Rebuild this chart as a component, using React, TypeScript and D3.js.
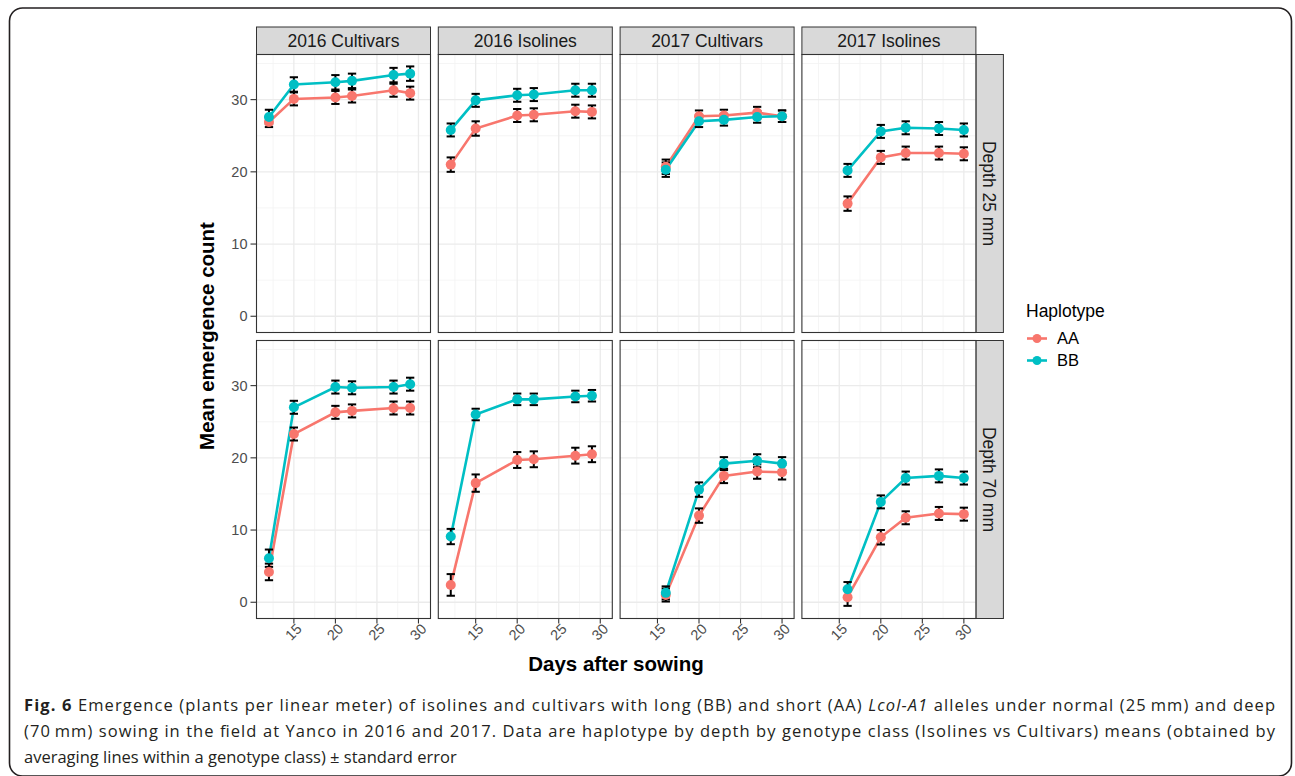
import React from 'react';
import * as d3 from 'd3';

// facets
const years = ['2016', '2016', '2017', '2017'];
const classes = ['Cultivars', 'Isolines', 'Cultivars', 'Isolines'];
const depths = ['Depth 25 mm', 'Depth 70 mm'];
const haplotypes = ['AA', 'BB'];

// days after sowing
const days2016 = [12, 15, 20, 22, 27, 29];
const days2017 = [16, 20, 23, 27, 30];

// mean emergence, depth 25 mm
const aa25 = [
  [26.9, 30.1, 30.3, 30.5, 31.3, 30.9],
  [21.0, 26.0, 27.8, 27.9, 28.4, 28.3],
  [20.7, 27.7, 27.8, 28.2, 27.7],
  [15.6, 22.0, 22.6, 22.6, 22.5],
];
const bb25 = [
  [27.6, 32.1, 32.4, 32.6, 33.4, 33.6],
  [25.8, 29.9, 30.6, 30.7, 31.3, 31.3],
  [20.3, 27.0, 27.2, 27.6, 27.7],
  [20.2, 25.6, 26.1, 26.0, 25.8],
];
// mean emergence, depth 70 mm
const aa70 = [
  [4.2, 23.3, 26.3, 26.5, 26.9, 26.9],
  [2.4, 16.5, 19.7, 19.8, 20.3, 20.5],
  [1.0, 12.0, 17.5, 18.1, 18.0],
  [0.7, 9.0, 11.7, 12.3, 12.2],
];
const bb70 = [
  [6.1, 27.0, 29.8, 29.7, 29.8, 30.2],
  [9.1, 26.0, 28.1, 28.1, 28.5, 28.6],
  [1.3, 15.6, 19.2, 19.6, 19.2],
  [1.8, 13.9, 17.2, 17.5, 17.2],
];

// standard errors
const aa25se = [
  [0.7, 0.9, 0.9, 0.9, 0.9, 0.9],
  [1.0, 1.0, 0.9, 0.9, 0.9, 0.9],
  [1.0, 0.8, 0.8, 0.8, 0.8],
  [1.0, 0.9, 0.9, 0.9, 0.9],
];
const bb25se = [
  [1.0, 1.0, 1.0, 1.0, 1.0, 1.0],
  [0.9, 0.9, 0.9, 0.9, 0.9, 0.9],
  [1.0, 0.8, 0.8, 0.8, 0.8],
  [0.9, 0.9, 0.9, 0.9, 0.9],
];
const aa70se = [
  [1.15, 0.9, 0.9, 0.9, 0.9, 0.9],
  [1.5, 1.2, 1.1, 1.1, 1.1, 1.1],
  [0.9, 1.0, 1.0, 1.0, 1.0],
  [1.2, 1.0, 0.9, 0.9, 0.9],
];
const bb70se = [
  [1.2, 0.9, 0.9, 0.9, 0.9, 0.9],
  [1.06, 0.8, 0.8, 0.8, 0.8, 0.8],
  [0.9, 1.0, 0.9, 0.9, 0.9],
  [1.0, 0.9, 0.9, 0.9, 0.9],
];

const xTicks = [15, 20, 25, 30];
const xMinor = [12.5, 17.5, 22.5, 27.5];
const yTicks = [0, 10, 20, 30];
const yMinor = [5, 15, 25, 35];

const colors = ['#F8766D', '#00BFC4'];

const FONT = '"Liberation Sans", Arial, Helvetica, sans-serif';

const App = () => {
  const width = 1295;
  const height = 776;

  const panelLeft = 256.5;
  const panelW = 174;
  const colStep = 181.8;
  const rowTops = [54.5, 340.5];
  const panelH = 278;
  const stripTop = 27;

  const x = d3.scaleLinear().domain([10.5, 31.45]).range([0, panelW]);
  const y = d3.scaleLinear().domain([-2.25, 36.25]).range([panelH, 0]);

  const means = [
    [aa25, bb25],
    [aa70, bb70],
  ];
  const ses = [
    [aa25se, bb25se],
    [aa70se, bb70se],
  ];

  const line = d3
    .line<[number, number]>()
    .x((d) => x(d[0]))
    .y((d) => y(d[1]));

  const capHalf = x(11) - x(10.5);

  return (
    <svg
      width={width}
      height={height}
      style={{ position: 'absolute', left: 0, top: 0, background: '#fff' }}
      fontFamily={FONT}
    >
      <rect x={9.5} y={8} width={1282} height={768} rx={13} fill="none" stroke="#231f20" strokeWidth={1.6} />

      {/* strips on top */}
      {years.map((yr, c) => {
        const px = panelLeft + c * colStep;
        return (
          <g key={'s' + c}>
            <rect x={px} y={stripTop} width={panelW} height={rowTops[0] - stripTop} fill="#D9D9D9" stroke="#333" strokeWidth={1} />
            <text x={px + panelW / 2} y={(stripTop + rowTops[0]) / 2} dy="0.36em" textAnchor="middle" fontSize={17.5} fill="#1A1A1A">
              {yr} {classes[c]}
            </text>
          </g>
        );
      })}

      {/* strips on the right */}
      {depths.map((dp, r) => {
        const sx = panelLeft + 3 * colStep + panelW;
        return (
          <g key={'r' + r}>
            <rect x={sx} y={rowTops[r]} width={27.5} height={panelH} fill="#D9D9D9" stroke="#333" strokeWidth={1} />
            <text
              transform={`translate(${sx + 13.75},${rowTops[r] + panelH / 2}) rotate(90)`}
              dy="0.36em"
              textAnchor="middle"
              fontSize={17.5}
              fill="#1A1A1A"
            >
              {dp}
            </text>
          </g>
        );
      })}

      {depths.map((dp, r) =>
        years.map((yr, c) => {
          const px = panelLeft + c * colStep;
          const py = rowTops[r];
          const days = yr === '2016' ? days2016 : days2017;
          return (
            <g key={`p${r}${c}`} transform={`translate(${px},${py})`}>
              <rect width={panelW} height={panelH} fill="#fff" />
              {xMinor.map((t) => (
                <line key={'xm' + t} x1={x(t)} x2={x(t)} y1={0} y2={panelH} stroke="#F2F2F2" strokeWidth={0.8} />
              ))}
              {yMinor.map((t) => (
                <line key={'ym' + t} y1={y(t)} y2={y(t)} x1={0} x2={panelW} stroke="#F2F2F2" strokeWidth={0.8} />
              ))}
              {xTicks.map((t) => (
                <line key={'xg' + t} x1={x(t)} x2={x(t)} y1={0} y2={panelH} stroke="#EBEBEB" strokeWidth={1.3} />
              ))}
              {yTicks.map((t) => (
                <line key={'yg' + t} y1={y(t)} y2={y(t)} x1={0} x2={panelW} stroke="#EBEBEB" strokeWidth={1.3} />
              ))}

              {haplotypes.map((h, k) => {
                const vals = means[r][k][c];
                const pts = days.map((d, i) => [d, vals[i]] as [number, number]);
                return (
                  <path key={'l' + h} d={line(pts) || ''} fill="none" stroke={colors[k]} strokeWidth={2.6} />
                );
              })}
              {haplotypes.map((h, k) => {
                const vals = means[r][k][c];
                const err = ses[r][k][c];
                return (
                  <g key={'e' + h} stroke="#000" strokeWidth={2}>
                    {days.map((d, i) => {
                      const cx = x(d);
                      const y1 = y(vals[i] + err[i]);
                      const y0 = y(vals[i] - err[i]);
                      return (
                        <g key={i}>
                          <line x1={cx} x2={cx} y1={y1} y2={y0} />
                          <line x1={cx - capHalf} x2={cx + capHalf} y1={y1} y2={y1} />
                          <line x1={cx - capHalf} x2={cx + capHalf} y1={y0} y2={y0} />
                        </g>
                      );
                    })}
                  </g>
                );
              })}
              {haplotypes.map((h, k) => {
                const vals = means[r][k][c];
                return (
                  <g key={'pt' + h} fill={colors[k]}>
                    {days.map((d, i) => (
                      <circle key={i} cx={x(d)} cy={y(vals[i])} r={5} />
                    ))}
                  </g>
                );
              })}

              <rect width={panelW} height={panelH} fill="none" stroke="#333" strokeWidth={1.1} />

              {c === 0 &&
                yTicks.map((t) => (
                  <g key={'yt' + t}>
                    <line x1={-6} x2={0} y1={y(t)} y2={y(t)} stroke="#333" strokeWidth={1.1} />
                    <text x={-9} y={y(t)} dy="0.36em" textAnchor="end" fontSize={14.5} fill="#4D4D4D">
                      {t}
                    </text>
                  </g>
                ))}
              {r === 1 &&
                xTicks.map((t) => (
                  <g key={'xt' + t}>
                    <line x1={x(t)} x2={x(t)} y1={panelH} y2={panelH + 5} stroke="#333" strokeWidth={1.1} />
                    <text
                      transform={`translate(${x(t) + 1.5},${panelH + 4}) rotate(-45)`}
                      dy="0.72em"
                      textAnchor="end"
                      fontSize={14.5}
                      fill="#4D4D4D"
                    >
                      {t}
                    </text>
                  </g>
                ))}
            </g>
          );
        })
      )}

      {/* axis titles */}
      <text x={616} y={671} textAnchor="middle" fontSize={20.5} fontWeight="bold" fill="#000">
        Days after sowing
      </text>
      <text transform="translate(214,336) rotate(-90)" textAnchor="middle" fontSize={20.5} fontWeight="bold" fill="#000">
        Mean emergence count
      </text>

      {/* legend */}
      <text x={1026} y={317} fontSize={17.5} fill="#000">
        Haplotype
      </text>
      {haplotypes.map((h, k) => {
        const ly = 338.5 + k * 22;
        return (
          <g key={'lg' + h}>
            <line x1={1027} x2={1047} y1={ly} y2={ly} stroke={colors[k]} strokeWidth={2.6} />
            <circle cx={1037} cy={ly} r={4.5} fill={colors[k]} />
            <text x={1057} y={ly} dy="0.36em" fontSize={16.5} fill="#000">
              {h}
            </text>
          </g>
        );
      })}

      {/* caption */}
      <g fontFamily='"Open Sans", "Noto Sans", sans-serif' fontSize={16.5} fill="#231f20">
        <text x={24} y={711} textLength={1251} lengthAdjust="spacing">
          <tspan fontWeight="bold">Fig. 6</tspan> Emergence (plants per linear meter) of isolines and cultivars with long (BB) and short (AA){' '}
          <tspan fontStyle="italic">Lcol-A1</tspan> alleles under normal (25{'\u2009'}mm) and deep
        </text>
        <text x={24} y={737} textLength={1251} lengthAdjust="spacing">
          (70{'\u2009'}mm) sowing in the field at Yanco in 2016 and 2017. Data are haplotype by depth by genotype class (Isolines vs Cultivars) means (obtained by
        </text>
        <text x={24} y={763}>
          averaging lines within a genotype class) ± standard error
        </text>
      </g>
    </svg>
  );
};

export default App;
